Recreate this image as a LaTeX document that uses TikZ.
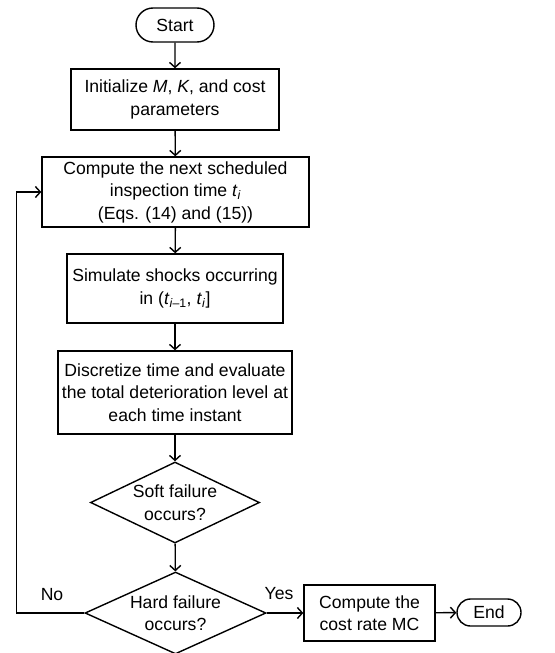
\documentclass[tikz,border=0pt]{standalone}
\usepackage{fontspec}
\setmainfont{Liberation Sans}
\usepackage{tikz}
\usetikzlibrary{arrows.meta, positioning, shapes.geometric, shapes.misc}

\begin{document}
\begin{tikzpicture}[x=1pt, y=-1pt, line width=1.4pt,
		font=\fontsize{17.6}{22.5}\selectfont,
		every node/.style={inner sep=0pt},
		procbox/.style={draw, rectangle, align=center},
		termbox/.style={draw, rounded rectangle},
		askbox/.style={draw, diamond, align=center},
		arr/.style={-{Straight Barb[length=5pt, width=11pt]}}]
				\useasboundingbox (0,0) rectangle (554,653);
				
				\node[termbox, minimum width=78pt, minimum height=34pt] (start) at (175, 25) {Start};
				\node[procbox, minimum width=208pt, minimum height=61pt] (init) at (175, 99.5) {Initialize \textit{M}, \textit{K}, and cost\\parameters};
				\node[procbox, minimum width=267pt, minimum height=70pt] (next) at (175.5, 192) {Compute the next scheduled\\inspection time \textit{t}\textsubscript{\textit{i}}\\(Eqs. (14) and (15))};
				\node[procbox, minimum width=216pt, minimum height=69pt] (shocks) at (175, 288.5) {Simulate shocks occurring\\in (\textit{t}\textsubscript{\textit{i}–1}, \textit{t}\textsubscript{\textit{i}}]};
				\node[procbox, minimum width=234pt, minimum height=83pt] (level) at (175, 392.5) {Discretize time and evaluate\\the total deterioration level at\\each time instant};
				\node[askbox, aspect=2.06, minimum width=169pt, minimum height=81pt] (soft) at (175, 502.5) {Soft failure\\occurs?};
				\node[askbox, aspect=2.2, minimum width=181pt, minimum height=82pt] (hard) at (175.5, 613) {Hard failure\\occurs?};
				\node[procbox, minimum width=131pt, minimum height=56pt] (cost) at (369.5, 613) {Compute the\\cost rate MC};
				\node[termbox, minimum width=64pt, minimum height=27pt] (end) at (489, 612.5) {End};
				
				\draw [arr] (start) -- (init);
				\draw [arr] (init) -- (next);
				\draw [arr] (next) -- (shocks);
				\draw [arr] (shocks) -- (level);
				\draw [arr] (level) -- (soft);
				\draw [arr] (soft) -- (hard);
				\draw [arr] (hard) -- (cost);
				\draw [arr] (cost) -- (end);
				
				\coordinate (back) at (16.5, 613);
				\draw [arr] (hard.west) -- (back) |- (next.west);
				
				\node (lblno) at (52, 595) {No};
				\node (lblyes) at (279, 594) {Yes};
			\end{tikzpicture}
\end{document}
